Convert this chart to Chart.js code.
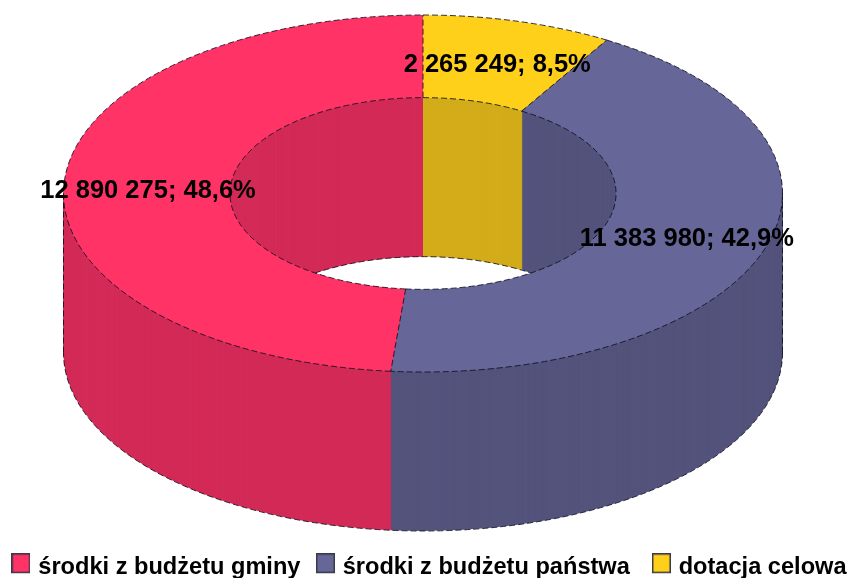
<!DOCTYPE html>
<html><head><meta charset="utf-8">
<style>html,body{margin:0;padding:0;background:#fff}#w{width:854px;height:578px;position:relative}</style>
<script src="https://cdn.jsdelivr.net/npm/chart.js@4"></script>
</head><body><div id="w"><canvas id="c" width="854" height="578"></canvas></div>
<script>
const categories = ['środki z budżetu gminy', 'środki z budżetu państwa', 'dotacja celowa'];
const values = [12890275, 11383980, 2265249];
const faceColors = ['#FF3366', '#666699', '#FFD01A'];
const wallColors = ['#D32A57', '#53537C', '#D3AC1A'];

// the rings run clockwise from 12 o'clock in the reverse of legend order
const rev = a => a.slice().reverse();
const total = values.reduce((a, b) => a + b, 0);
const fmtLabel = v => String(v).replace(/\B(?=(\d{3})+$)/g, ' ') + '; ' + (v / total * 100).toFixed(1).replace('.', ',') + '%';

const FACE = {cx: 423, cy: 193.5, rx: 359.5, ry: 178.5, depth: 159};
const squash = FACE.ry / FACE.rx;
const OUTLINE = 'rgba(15,15,30,0.85)';

function project(ctx, el, dy) {
  ctx.translate(FACE.cx, FACE.cy + dy);
  ctx.scale(1, squash);
  ctx.translate(-el.x, -el.y);
}
function ringPath(ctx, el) {
  ctx.beginPath();
  ctx.arc(el.x, el.y, el.outerRadius, el.startAngle, el.endAngle);
  ctx.arc(el.x, el.y, el.innerRadius, el.endAngle, el.startAngle, true);
  ctx.closePath();
}
function strokeArc(ctx, el, r, a0, a1, dy) {
  ctx.save();
  project(ctx, el, dy);
  ctx.beginPath();
  ctx.arc(el.x, el.y, r, a0, a1);
  ctx.restore();
  ctx.stroke();
}
function swatch(color) {
  const c = document.createElement('canvas');
  c.width = 19; c.height = 28;
  const g = c.getContext('2d');
  g.fillStyle = color;
  g.fillRect(0, 0, 19, 20);
  g.strokeStyle = '#3a3a4a';
  g.lineWidth = 1.5;
  g.strokeRect(0.75, 0.75, 17.5, 18.5);
  return c;
}
const ring3d = {
  id: 'ring3d',
  beforeUpdate(chart) {
    // keep the three legend items on one row, as in the reference
    const lg = chart.legend;
    if (lg && !lg._oneRow) {
      lg._oneRow = true;
      const fit = lg._fitRows;
      lg._fitRows = function (...a) {
        const w = this.maxWidth;
        this.maxWidth = 2000;
        const h = fit.apply(this, a);
        this.maxWidth = w;
        return h;
      };
    }
  },
  beforeDraw(chart) {
    chart.legend.left = -18;
    chart.legend.right = 880;
  },
  beforeDatasetsDraw(chart) {
    const ctx = chart.ctx;
    const els = chart.getDatasetMeta(0).data;
    const wall = rev(wallColors);
    for (let d = FACE.depth; d >= 1; d--) {
      els.forEach((el, i) => {
        ctx.save();
        project(ctx, el, d);
        ringPath(ctx, el);
        ctx.fillStyle = wall[i];
        ctx.fill();
        ctx.restore();
      });
    }
    ctx.save();
    project(ctx, els[0], 0);
  },
  afterDatasetsDraw(chart) {
    const ctx = chart.ctx;
    ctx.restore();
    const els = chart.getDatasetMeta(0).data;
    const el0 = els[0];
    ctx.save();
    ctx.strokeStyle = OUTLINE;
    ctx.lineWidth = 1;
    ctx.setLineDash([6, 3]);
    // top face outlines
    els.forEach(el => {
      strokeArc(ctx, el, el.outerRadius, el.startAngle, el.endAngle, 0);
      strokeArc(ctx, el, el.innerRadius, el.startAngle, el.endAngle, 0);
      [el.startAngle].forEach(a => {
        ctx.beginPath();
        ctx.moveTo(FACE.cx + Math.cos(a) * el.innerRadius, FACE.cy + Math.sin(a) * el.innerRadius * squash);
        ctx.lineTo(FACE.cx + Math.cos(a) * el.outerRadius, FACE.cy + Math.sin(a) * el.outerRadius * squash);
        ctx.stroke();
      });
    });
    // outer wall bottom edge and silhouette
    strokeArc(ctx, el0, el0.outerRadius, 0, Math.PI, FACE.depth);
    [-1, 1].forEach(s => {
      const x = FACE.cx + s * FACE.rx;
      ctx.beginPath();
      ctx.moveTo(x, FACE.cy);
      ctx.lineTo(x, FACE.cy + FACE.depth);
      ctx.stroke();
    });
    // lower edge of the back inner wall, seen through the hole
    const innerRy = el0.innerRadius * squash;
    const t = Math.asin(FACE.depth / (2 * innerRy));
    strokeArc(ctx, el0, el0.innerRadius, Math.PI + t, 2 * Math.PI - t, FACE.depth);
    ctx.restore();
    // value labels
    ctx.save();
    ctx.fillStyle = '#000';
    ctx.font = 'bold 25.5px "Liberation Sans", Arial, sans-serif';
    ctx.textAlign = 'center';
    ctx.textBaseline = 'middle';
    const vals = rev(values);
    els.forEach((el, i) => {
      const p = el.getCenterPoint();
      ctx.fillText(fmtLabel(vals[i]), FACE.cx + 1 + (p.x - el.x), FACE.cy + 3.5 + (p.y - el.y) * squash);
    });
    ctx.restore();
  }
};

new Chart(document.getElementById('c'), {
  type: 'doughnut',
  plugins: [ring3d],
  data: {
    labels: rev(categories),
    datasets: [{data: rev(values), backgroundColor: rev(faceColors), borderWidth: 0, clip: false}]
  },
  options: {
    responsive: false,
    animation: false,
    radius: FACE.rx,
    cutout: '53.7%',
    layout: {padding: {bottom: -11}},
    plugins: {
      tooltip: {enabled: false},
      legend: {
        position: 'bottom',
        reverse: true,
        labels: {
          color: '#000',
          usePointStyle: true,
          boxWidth: 11,
          boxHeight: 11,
          padding: 19.5,
          font: {family: '"Liberation Sans", Arial, sans-serif', weight: 'bold', size: 23.6},
          generateLabels(chart) {
            const faces = rev(faceColors);
            return Chart.overrides.doughnut.plugins.legend.labels.generateLabels(chart)
              .map((it, i) => ({
                ...it,
                text: it.text === categories[1] ? it.text + ' ' : it.text,
                pointStyle: swatch(faces[i])
              }));
          }
        }
      }
    }
  }
});
</script></body></html>
